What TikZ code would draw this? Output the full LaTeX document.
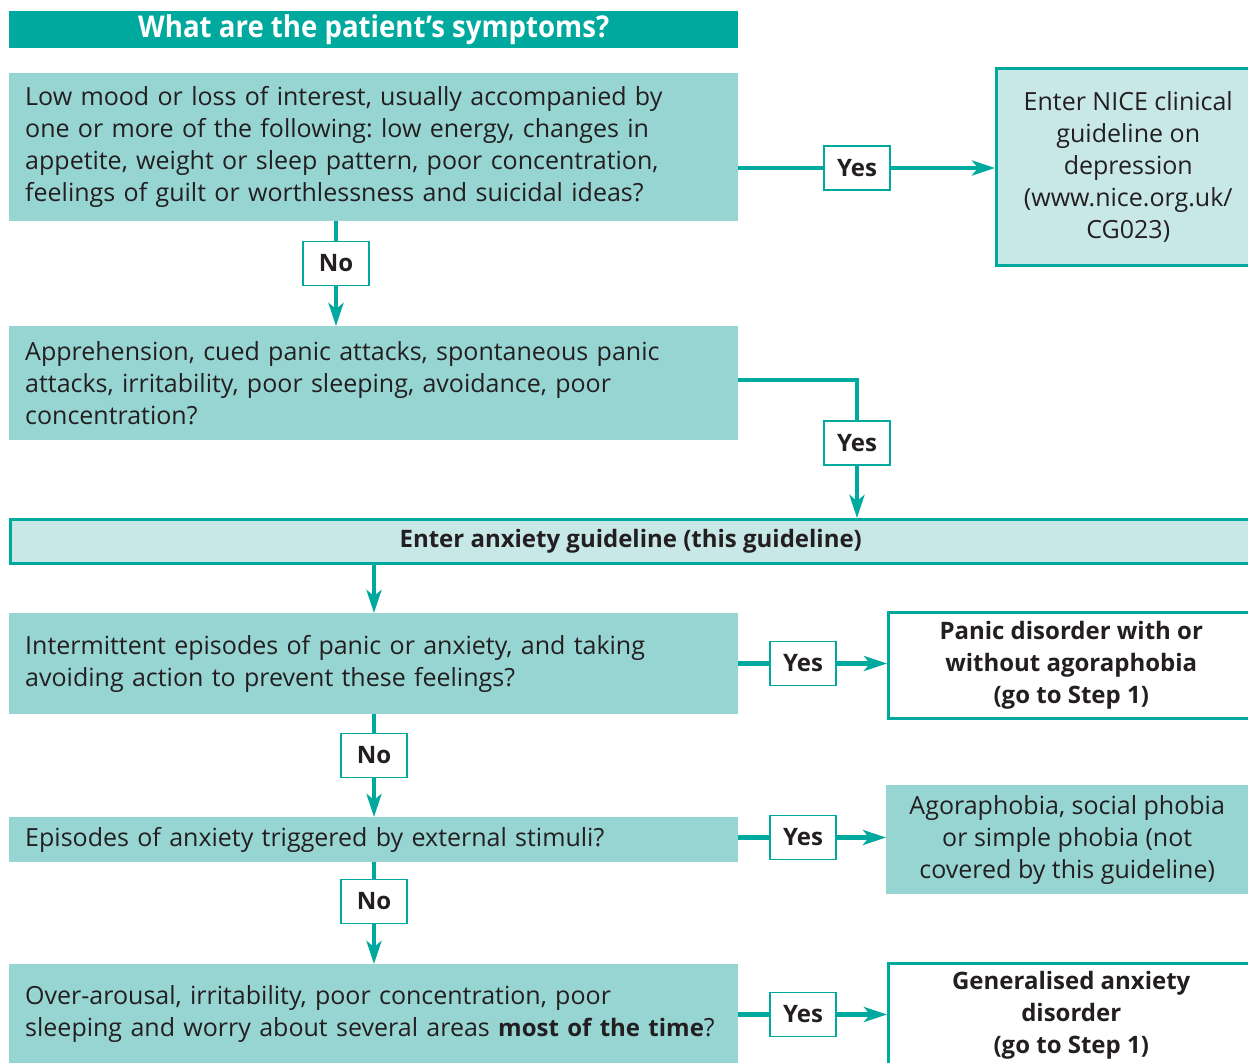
\documentclass[tikz,border=0pt]{standalone}
\usepackage{fontspec}
\setmainfont{Open Sans}
\newfontfamily\condfont[FakeStretch=0.92]{Open Sans}
\usetikzlibrary{arrows.meta}
\definecolor{tealA}{HTML}{00A99D}
\definecolor{tealL}{HTML}{97D5D3}
\definecolor{tealP}{HTML}{C8E8E8}
\definecolor{ink}{HTML}{231F20}
\newcommand{\fsz}{\fontsize{25}{32}\selectfont}
\newcommand{\fszb}{\fontsize{24}{32}\selectfont}
\frenchspacing
\begin{document}
\begin{tikzpicture}[x=1pt,y=-1pt,
  qbox/.style={fill=tealL, anchor=north west, inner xsep=16pt, inner ysep=0pt,
    text width=697pt, align=left, font=\fsz, text=ink},
  rbox/.style={anchor=north west, inner sep=0pt, align=center, font=\fsz, text=ink},
  lbl/.style={draw=tealA, line width=1.5pt, fill=white, minimum width=66pt,
    minimum height=44pt, inner sep=0pt, font=\bfseries\fszb, text=ink},
  ln/.style={draw=tealA, line width=4.5pt},
  arr/.style={ln, -{Stealth[length=23pt,width=15pt,inset=6pt]}}
]
\useasboundingbox (0,0) rectangle (1248,1063);
\fill[white] (0,0) rectangle (1248,1063);

% title
\node[anchor=north west, fill=tealA, minimum width=729pt, minimum height=37pt, inner sep=0pt,
  text=white, font=\condfont\bfseries\fontsize{30}{32}\selectfont] (title) at (9,11)
  {What are the patient’s symptoms?};

% question boxes
\node[qbox, minimum height=148pt] (b1) at (9,73)
  {Low mood or loss of interest, usually accompanied by\\one or more of the following: low energy, changes in\\appetite, weight or sleep pattern, poor concentration,\\feelings of guilt or worthlessness and suicidal ideas?};
\node[qbox, minimum height=114pt] (b2) at (9,326)
  {Apprehension, cued panic attacks, spontaneous panic\\attacks, irritability, poor sleeping, avoidance, poor\\concentration?};
\node[qbox, minimum height=101pt] (b3) at (9,613)
  {Intermittent episodes of panic or anxiety, and taking\\avoiding action to prevent these feelings?};
\node[qbox, minimum height=45pt] (b4) at (9,817)
  {Episodes of anxiety triggered by external stimuli?};
\node[qbox, minimum height=100pt] (b5) at (9,964)
  {Over-arousal, irritability, poor concentration, poor\\sleeping and worry about several areas {\bfseries\fszb most of the time}?};

% result boxes
\node[rbox, fill=tealP, draw=tealA, line width=2.5pt, minimum width=264pt, minimum height=197pt] (nice) at (995,67)
  {Enter NICE clinical\\guideline on\\depression\\(www.nice.org.uk/\\CG023)};
\node[rbox, fill=tealP, draw=tealA, line width=2.5pt, minimum width=1241pt, minimum height=44pt,
  font=\bfseries\fszb] (anx) at (9,518)
  {Enter anxiety guideline (this guideline)};
\node[rbox, fill=white, draw=tealA, line width=2.5pt, minimum width=366pt, minimum height=106pt,
  font=\bfseries\fszb] (panic) at (887,611)
  {Panic disorder with or\\without agoraphobia\\(go to Step 1)};
\node[rbox, fill=tealL, minimum width=362pt, minimum height=109pt] (agora) at (886,785)
  {Agoraphobia, social phobia\\or simple phobia (not\\covered by this guideline)};
\node[rbox, fill=white, draw=tealA, line width=2.5pt, minimum width=366pt, minimum height=104pt,
  font=\bfseries\fszb] (gad) at (887,962)
  {Generalised anxiety\\disorder\\(go to Step 1)};

% labels
\node[lbl] (yes1) at (857,168) {Yes};
\node[lbl] (no1) at (336,263.5) {No};
\node[lbl] (yes2) at (857,443) {Yes};
\node[lbl] (yes3) at (803,663.5) {Yes};
\node[lbl] (no2) at (374,755.5) {No};
\node[lbl] (yes4) at (803,837.5) {Yes};
\node[lbl] (no3) at (374,901.5) {No};
\node[lbl] (yes5) at (803,1014.5) {Yes};
\coordinate (c2) at (857,380);

% connectors
\draw[ln] (b1.east |- yes1) -- (yes1.west);
\draw[arr] (yes1.east) -- (nice.west |- yes1);
\draw[ln] (b1.south -| no1) -- (no1.north);
\draw[arr] (no1.south) -- (b2.north -| no1);
\draw[ln] (b2.east |- c2) -- (c2) -- (yes2.north);
\draw[arr] (yes2.south) -- (anx.north -| yes2);
\draw[arr] (anx.south -| no2) -- (b3.north -| no2);
\draw[ln] (b3.east |- yes3) -- (yes3.west);
\draw[arr] (yes3.east) -- (panic.west |- yes3);
\draw[ln] (b3.south -| no2) -- (no2.north);
\draw[arr] (no2.south) -- (b4.north -| no2);
\draw[ln] (b4.east |- yes4) -- (yes4.west);
\draw[arr] (yes4.east) -- (agora.west |- yes4);
\draw[ln] (b4.south -| no3) -- (no3.north);
\draw[arr] (no3.south) -- (b5.north -| no3);
\draw[ln] (b5.east |- yes5) -- (yes5.west);
\draw[arr] (yes5.east) -- (gad.west |- yes5);
\end{tikzpicture}
\end{document}
